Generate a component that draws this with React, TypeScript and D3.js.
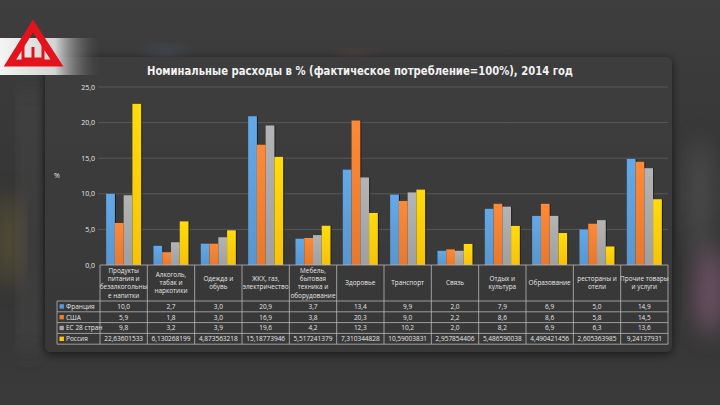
import * as d3 from "d3"

const categories = [
  "Продукты|питания и|безалкогольны|е напитки",
  "Алкоголь,|табак и|наркотики",
  "Одежда и|обувь",
  "ЖКХ, газ,|электричество",
  "Мебель,|бытовая|техника и|оборудование",
  "Здоровье",
  "Транспорт",
  "Связь",
  "Отдых и|культура",
  "Образование",
  "рестораны и|отели",
  "Прочие товары|и услуги",
]

const seriesNames = ["Франция", "США", "ЕС 28 стран", "Россия"]
const seriesColors = ["#5b9bd5", "#ed7d31", "#a5a5a5", "#ffc90a"]

const france = [10.0, 2.7, 3.0, 20.9, 3.7, 13.4, 9.9, 2.0, 7.9, 6.9, 5.0, 14.9]
const usa = [5.9, 1.8, 3.0, 16.9, 3.8, 20.3, 9.0, 2.2, 8.6, 8.6, 5.8, 14.5]
const eu28 = [9.8, 3.2, 3.9, 19.6, 4.2, 12.3, 10.2, 2.0, 8.2, 6.9, 6.3, 13.6]
const russia = [
  22.63601533, 6.130268199, 4.873563218, 15.18773946, 5.517241379, 7.310344828,
  10.59003831, 2.957854406, 5.486590038, 4.490421456, 2.605363985, 9.24137931,
]
const seriesValues = [france, usa, eu28, russia]

const yTicks = [0, 5, 10, 15, 20, 25]

const title = "Номинальные расходы в % (фактическое потребление=100%), 2014 год"

const W = 720
const H = 405

const fmt1 = (v: number) => v.toFixed(1).replace(".", ",")
const fmtRaw = (v: number) => String(v).replace(".", ",")

export default function App() {
  const x = d3.scaleBand<number>()
    .domain(d3.range(categories.length))
    .range([100, 668])
    .paddingInner(0.26)
    .paddingOuter(0.13)
  const colX = d3.scaleBand<number>()
    .domain(d3.range(categories.length))
    .range([100, 668])
  const sx = d3.scaleBand<number>()
    .domain(d3.range(seriesNames.length))
    .range([0, x.bandwidth()])
  const y = d3.scaleLinear().domain([0, 25]).range([265, 87])

  const headerTop = 265
  const headerBottom = 301
  const rowH = 10.8
  const legendLeft = 57
  const tableRight = 668
  const tableBottom = headerBottom + rowH * seriesNames.length

  const font = "'Open Sans', 'DejaVu Sans', sans-serif"
  const txt = "#e6e6e6"
  const lineCol = "#b8b8b8"

  return (
    <div style={{ position: "fixed", left: 0, top: 0, width: W, height: H }}>
      <svg width={W} height={H} viewBox={`0 0 ${W} ${H}`} style={{ display: "block" }}>
        <defs>
          <linearGradient id="bg" x1="0" y1="0" x2="0" y2="1">
            <stop offset="0%" stopColor="#3e3e3e" />
            <stop offset="60%" stopColor="#333" />
            <stop offset="100%" stopColor="#3a3a3a" />
          </linearGradient>
          <linearGradient id="panel" x1="0" y1="0" x2="0" y2="1">
            <stop offset="0%" stopColor="#3d3d3d" />
            <stop offset="100%" stopColor="#383838" />
          </linearGradient>
          <linearGradient id="band" x1="0" y1="0" x2="1" y2="0">
            <stop offset="0%" stopColor="#f4f4f4" />
            <stop offset="55%" stopColor="#d4d4d4" />
            <stop offset="100%" stopColor="#555" stopOpacity="0" />
          </linearGradient>
          <filter id="blur" x="-50%" y="-50%" width="200%" height="200%">
            <feGaussianBlur stdDeviation="12" />
          </filter>
          <filter id="shadow" x="-10%" y="-10%" width="120%" height="120%">
            <feDropShadow dx="0" dy="2" stdDeviation="5" floodColor="#000" floodOpacity="0.6" />
          </filter>
          {seriesColors.map((c, i) => (
            <linearGradient key={i} id={`bar${i}`} x1="0" y1="0" x2="0" y2="1">
              <stop offset="0%" stopColor={d3.color(c)!.brighter(0.25).formatHex()} />
              <stop offset="100%" stopColor={d3.color(c)!.darker(0.1).formatHex()} />
            </linearGradient>
          ))}
        </defs>

        <rect width={W} height={H} fill="url(#bg)" />
        {/* blurred background */}
        <rect x={22} y={90} width={14} height={260} fill="#4a4a4a" filter="url(#blur)" />
        <ellipse cx={8} cy={240} rx={10} ry={45} fill="#8a7a3a" opacity={0.5} filter="url(#blur)" />
        <ellipse cx={710} cy={290} rx={14} ry={45} fill="#9a6a8a" opacity={0.6} filter="url(#blur)" />
        <ellipse cx={700} cy={200} rx={12} ry={60} fill="#666" opacity={0.5} filter="url(#blur)" />
        <ellipse cx={165} cy={62} rx={14} ry={10} fill="#5b7aa5" opacity={0.5} filter="url(#blur)" />
        <ellipse cx={355} cy={68} rx={16} ry={10} fill="#a55b4a" opacity={0.45} filter="url(#blur)" />

        <rect x={45} y={57} width={627} height={295} rx={6} fill="url(#panel)" filter="url(#shadow)" />

        {/* logo */}
        <rect x={0} y={38} width={100} height={37} fill="url(#band)" />
        <path d="M33,26 L10,63 L57,63 Z" fill="none" stroke="#e3131b" strokeWidth={7} strokeLinejoin="miter" />
        <path d="M23,45 L23,59 L43,59 L43,45 M33,47 L33,59" fill="none" stroke="#e3131b" strokeWidth={3} />

        {/* title */}
        <text x={360} y={75} textAnchor="middle" fill="#f2f2f2" fontFamily="'DejaVu Sans Condensed', 'DejaVu Sans', sans-serif"
          fontWeight="bold" fontSize={11.5} textLength={426} lengthAdjust="spacingAndGlyphs">
          {title}
        </text>

        {/* gridlines and y labels */}
        {yTicks.map(t => (
          <g key={t}>
            {t > 0 && <line x1={98} x2={668} y1={y(t)} y2={y(t)} stroke="#595959" strokeWidth={1} />}
            <text x={95} y={y(t) + 2.5} textAnchor="end" fill={txt} fontFamily={font} fontSize={7}>
              {fmt1(t)}
            </text>
          </g>
        ))}
        <text x={57} y={178} fill={txt} fontFamily={font} fontSize={7} textAnchor="middle">%</text>

        {/* bars */}
        {seriesValues.map((vals, si) => (
          <g key={si}>
            {vals.map((v, ci) => (
              <g key={ci}>
                <rect x={x(ci)! + sx(si)! + 1} y={y(v)} width={sx.bandwidth()} height={y(0) - y(v)} fill="#111" opacity={0.7} />
                <rect x={x(ci)! + sx(si)!} y={y(v)} width={sx.bandwidth()} height={y(0) - y(v)} fill={`url(#bar${si})`} />
              </g>
            ))}
          </g>
        ))}

        {/* data table */}
        <g fontFamily={font} fill={txt}>
          {categories.map((c, ci) => {
            const lines = c.split("|")
            const cx = colX(ci)! + colX.bandwidth() / 2
            const mid = (headerTop + headerBottom) / 2
            const lh = 8.2
            return (
              <text key={ci} textAnchor="middle" fontSize={6.4}>
                {lines.map((l, li) => (
                  <tspan key={li} x={cx} y={mid + (li - (lines.length - 1) / 2) * lh + 2.2}>{l}</tspan>
                ))}
              </text>
            )
          })}
          {seriesNames.map((n, si) => {
            const ry = headerBottom + si * rowH
            return (
              <g key={si}>
                <rect x={legendLeft + 2.5} y={ry + rowH / 2 - 2.2} width={4.4} height={4.4} fill={seriesColors[si]} />
                <text x={legendLeft + 9} y={ry + rowH / 2 + 2.3} fontSize={6.5}>{n}</text>
                {seriesValues[si].map((v, ci) => (
                  <text key={ci} x={colX(ci)! + colX.bandwidth() / 2} y={ry + rowH / 2 + 2.3} textAnchor="middle" fontSize={6.5}>
                    {si === 3 ? fmtRaw(v) : fmt1(v)}
                  </text>
                ))}
              </g>
            )
          })}
        </g>
        <g stroke={lineCol} strokeWidth={0.8} fill="none">
          <line x1={100} x2={tableRight} y1={headerTop} y2={headerTop} />
          {d3.range(seriesNames.length + 1).map(i => (
            <line key={i} x1={legendLeft} x2={tableRight} y1={headerBottom + i * rowH} y2={headerBottom + i * rowH} />
          ))}
          <line x1={legendLeft} x2={legendLeft} y1={headerBottom} y2={tableBottom} />
          {d3.range(categories.length + 1).map(i => (
            <line key={i} x1={100 + i * colX.step()} x2={100 + i * colX.step()} y1={headerTop} y2={tableBottom} />
          ))}
        </g>
      </svg>
    </div>
  )
}
